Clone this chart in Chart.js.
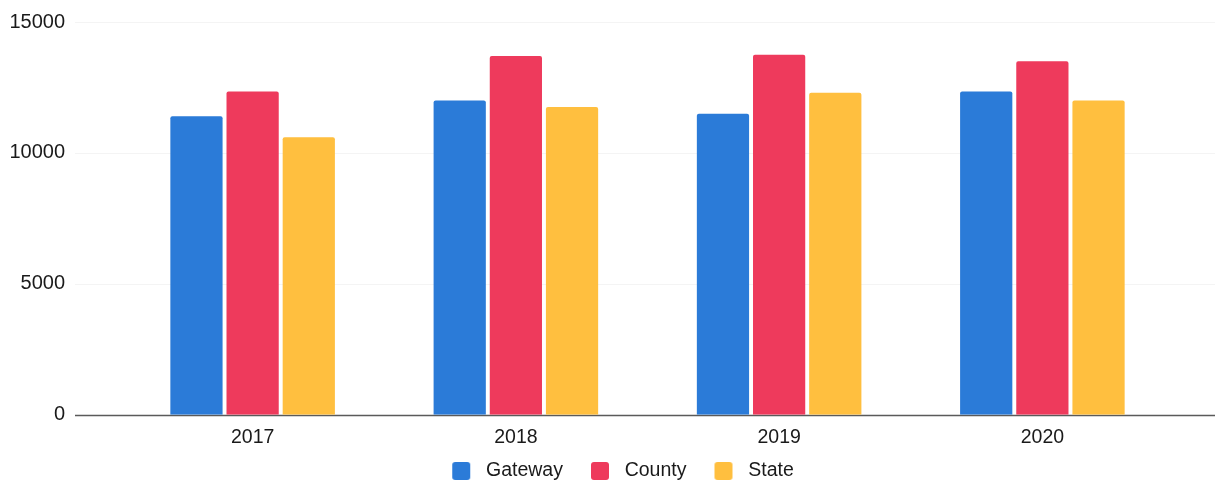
<!DOCTYPE html>
<html>
<head>
<meta charset="utf-8">
<script src="https://cdn.jsdelivr.net/npm/chart.js@4/dist/chart.umd.min.js"></script>
<style>
  html, body { margin: 0; padding: 0; background: #fff; }
  #wrap { width: 1224px; height: 481px; }
</style>
</head>
<body>
<div id="wrap"><canvas id="chart" width="1224" height="481"></canvas></div>
<script>
const years = ["2017", "2018", "2019", "2020"];
const gateway = [11400, 12000, 11500, 12350];
const county = [12350, 13700, 13750, 13500];
const state = [10600, 11750, 12300, 12000];
const yTicks = [0, 5000, 10000, 15000];

const colors = { gateway: "#2b7bd8", county: "#ee3a5c", state: "#ffbf3f" };

// legend swatch: rounded square with empty room on both sides for spacing
function swatch(color) {
  const c = document.createElement("canvas");
  c.width = 46;
  c.height = 18;
  const g = c.getContext("2d");
  g.fillStyle = color;
  g.beginPath();
  g.roundRect(22, 0, 18, 18, 3);
  g.fill();
  return c;
}

// faint gridlines and the dark baseline run wider than the plot area
const wideLines = {
  id: "wideLines",
  beforeDatasetsDraw(chart) {
    const { ctx, scales: { y } } = chart;
    ctx.save();
    yTicks.forEach(v => {
      const py = Math.round(y.getPixelForValue(v)) + 0.5;
      ctx.beginPath();
      ctx.moveTo(75, py);
      ctx.lineTo(1215, py);
      ctx.strokeStyle = v === 0 ? "#5a5a5a" : "#f4f4f4";
      ctx.lineWidth = v === 0 ? 1.5 : 1;
      ctx.stroke();
    });
    ctx.restore();
  }
};

const family = "'Liberation Sans', Arial, sans-serif";

new Chart(document.getElementById("chart"), {
  type: "bar",
  data: {
    labels: years,
    datasets: [
      { label: "Gateway", data: gateway, backgroundColor: colors.gateway, pointStyle: swatch(colors.gateway) },
      { label: "County", data: county, backgroundColor: colors.county, pointStyle: swatch(colors.county) },
      { label: "State", data: state, backgroundColor: colors.state, pointStyle: swatch(colors.state) }
    ]
  },
  options: {
    responsive: false,
    animation: false,
    layout: { padding: { top: 22, right: 0, left: 0, bottom: -9.75 } },
    datasets: {
      bar: { categoryPercentage: 0.64, barPercentage: 0.93, borderRadius: 2, borderSkipped: "bottom" }
    },
    scales: {
      x: {
        afterFit(s) { s.height -= 5; },
        grid: { display: false, drawTicks: false },
        border: { display: false },
        ticks: { color: "#1a1a1a", font: { family, size: 19.5 }, padding: 11 }
      },
      y: {
        min: 0,
        max: 15000,
        afterFit(s) { s.width = 121; s.paddingTop = 0; s.paddingBottom = 0; },
        afterBuildTicks(s) { s.ticks = yTicks.map(v => ({ value: v })); },
        grid: { display: false, drawTicks: false },
        border: { display: false },
        ticks: { color: "#1a1a1a", font: { family, size: 20 }, padding: 56, callback: v => String(v) }
      },
      // empty strip on the right so the plot stops short of the canvas edge
      spacer: {
        type: "linear",
        position: "right",
        afterFit(s) { s.width = 50; s.paddingTop = 0; s.paddingBottom = 0; },
        grid: { display: false, drawTicks: false },
        border: { display: false },
        ticks: { display: false }
      }
    },
    plugins: {
      tooltip: { enabled: false },
      legend: {
        position: "bottom",
        labels: {
          color: "#1a1a1a",
          font: { family, size: 19.5 },
          usePointStyle: true,
          pointStyleWidth: 46,
          boxHeight: 18,
          padding: 6
        }
      }
    }
  },
  plugins: [wideLines]
});
</script>
</body>
</html>
